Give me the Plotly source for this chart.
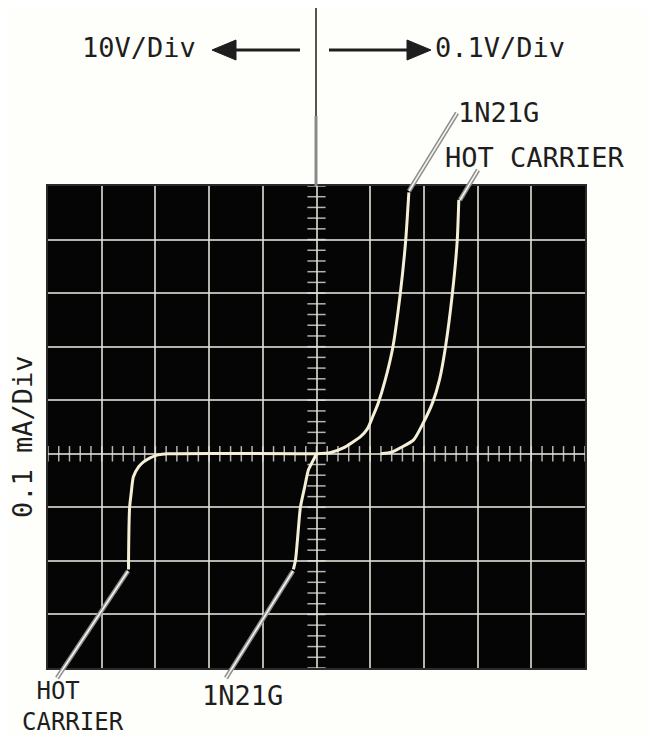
import numpy as np
import plotly.graph_objects as go

W, H = 655, 735

# ---- data (screen divisions: x = horizontal div from centre, y = vertical div from centre)
# forward (right half, 0.1 V/div), reverse (left half, 10 V/div); current 0.1 mA/div
fwd_1n21g_x = [0.0, 0.25, 0.5, 0.82, 0.95, 1.05, 1.15, 1.28, 1.42, 1.56, 1.66, 1.72]
fwd_1n21g_y = [0.0, 0.02, 0.11, 0.32, 0.47, 0.70, 0.95, 1.38, 1.98, 2.99, 3.97, 4.88]

fwd_hot_x = [1.2, 1.4, 1.56, 1.81, 1.99, 2.16, 2.29, 2.40, 2.53, 2.62, 2.65]
fwd_hot_y = [0.0, 0.03, 0.11, 0.26, 0.58, 0.95, 1.38, 1.98, 2.99, 3.97, 4.74]

rev_hot_x = [0.0, -2.77, -2.95, -3.09, -3.22, -3.31, -3.41, -3.45, -3.48, -3.50, -3.50]
rev_hot_y = [0.0, 0.0, -0.02, -0.07, -0.15, -0.24, -0.43, -0.73, -1.0, -1.98, -2.16]

rev_1n21g_x = [0.0, -0.06, -0.15, -0.22, -0.30, -0.35, -0.39, -0.43]
rev_1n21g_y = [0.0, -0.12, -0.30, -0.62, -1.0, -1.55, -1.98, -2.16]

x_range = [-5, 5]
y_range = [-4, 5]

# screen placement in page pixels
SX0, SX1, SY0, SY1 = 48, 585, 186, 668
OFF = 8  # page body margin


def px(x):
    return (x - OFF) / W


def py(y):
    return 1 - (y - OFF) / H


TRACE = "#f4efd6"
GRID = "rgba(225,225,215,0.8)"
INK = "#1e1e1e"
FONT = "DejaVu Sans Mono"

fig = go.Figure()

# centre-line graticule ticks
vt = np.round(np.arange(y_range[0], y_range[1] + 0.001, 0.2), 2)
ht = np.round(np.arange(x_range[0], x_range[1] + 0.001, 0.2), 2)
fig.add_trace(go.Scatter(x=[0] * len(vt), y=vt, mode="markers",
                         marker=dict(symbol="line-ew", size=13,
                                     line=dict(color=GRID, width=1.5)),
                         hoverinfo="skip", showlegend=False))
fig.add_trace(go.Scatter(x=ht, y=[0] * len(ht), mode="markers",
                         marker=dict(symbol="line-ns", size=11,
                                     line=dict(color=GRID, width=1.5)),
                         hoverinfo="skip", showlegend=False))

for xs, ys, name in [(fwd_1n21g_x, fwd_1n21g_y, "1N21G forward"),
                     (fwd_hot_x, fwd_hot_y, "Hot carrier forward"),
                     (rev_hot_x, rev_hot_y, "Hot carrier reverse"),
                     (rev_1n21g_x, rev_1n21g_y, "1N21G reverse")]:
    fig.add_trace(go.Scatter(x=xs, y=ys, mode="lines", name=name,
                             line=dict(color=TRACE, width=3, shape="spline", smoothing=0.6),
                             showlegend=False))

shapes = []


def line(x0, y0, x1, y1, color, width):
    shapes.append(dict(type="line", xref="paper", yref="paper",
                       x0=px(x0), y0=py(y0), x1=px(x1), y1=py(y1),
                       line=dict(color=color, width=width), layer="above"))


def tri(points):
    d = "M " + " L ".join(f"{px(a)},{py(b)}" for a, b in points) + " Z"
    shapes.append(dict(type="path", xref="paper", yref="paper", path=d,
                       fillcolor=INK, line=dict(color=INK, width=1), layer="above"))


# vertical marker line above screen
line(316, 8, 316, 116, INK, 1.5)
line(316, 116, 316, 186, "#8a8a8a", 3)

# arrows
line(234, 50, 300, 50, INK, 3)
tri([(212, 50), (236, 40), (236, 60)])
line(329, 50, 410, 50, INK, 3)
tri([(431, 50), (407, 40), (407, 60)])

# leader lines (double-line look)
leaders = [(409, 191, 457, 113), (460, 200, 478, 170),
           (128, 571, 57, 678), (293, 571, 226, 678)]
for x0, y0, x1, y1 in leaders:
    line(x0, y0, x1, y1, "#8c8c8c", 4.5)
    line(x0, y0, x1, y1, "#f6f6ee", 1.5)

annotations = []


def text(s, x, y, size=27, anchor="left", angle=0, align="left"):
    annotations.append(dict(text=s, xref="paper", yref="paper", x=px(x), y=py(y),
                            xanchor=anchor, yanchor="middle", showarrow=False,
                            textangle=angle, align=align,
                            font=dict(family=FONT, size=size, color=INK)))


text("10V/Div", 80, 48)
text("0.1V/Div", 433, 48)
text("1N21G", 456, 112)
text("HOT CARRIER", 443, 157)
text("\u00a0HOT<br>CARRIER", 20, 706, size=24)
text("1N21G", 200, 695)
text("0.1 mA/Div", 22, 437, anchor="center", angle=-90)

axis_common = dict(showgrid=True, gridcolor=GRID, gridwidth=1.6, dtick=1,
                   showticklabels=False, ticks="", zeroline=False,
                   showline=True, linecolor="#2a2a2a", linewidth=2, mirror=True,
                   fixedrange=True)

fig.update_layout(
    width=W, height=H,
    margin=dict(l=0, r=0, t=0, b=0),
    paper_bgcolor="#fefefb",
    plot_bgcolor="#050505",
    xaxis=dict(range=x_range, domain=[px(SX0), px(SX1)], tick0=0, **axis_common),
    yaxis=dict(range=y_range, domain=[py(SY1), py(SY0)], tick0=0, **axis_common),
    shapes=shapes,
    annotations=annotations,
)

fig.write_html("out.html")
